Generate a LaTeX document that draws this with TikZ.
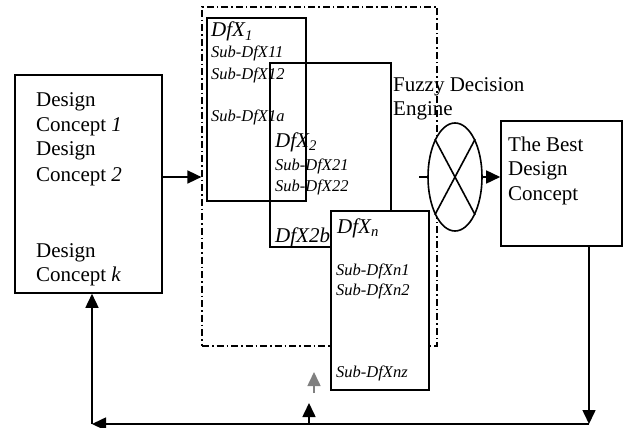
\documentclass[tikz,border=0pt]{standalone}
\usepackage{fontspec}
\setmainfont{Liberation Serif}
\usepackage{tikz}
\usetikzlibrary{arrows.meta, shapes.geometric, fit}
\definecolor{tipgray}{RGB}{128,128,128}
\newcommand{\dfx}[1]{\textit{DfX\textsubscript{#1}}}

\begin{document}
\begin{tikzpicture}[x=1pt, y=-1pt,
    box/.style={draw, line width=1.6pt, inner sep=0pt},
    wbox/.style={box, fill=white},
    group/.style={draw, line width=1.2pt, inner sep=0pt,
                  dash pattern=on 7pt off 3pt on 1.5pt off 3pt},
    big/.style={font=\fontsize{21}{25}\selectfont, inner sep=0pt, anchor=base west},
    small/.style={font=\fontsize{16.5}{20}\selectfont\itshape, inner sep=0pt, anchor=base west},
    arr/.style={line width=1.6pt, -{Triangle[length=14pt, width=13pt]}}]
  \useasboundingbox (0,0) rectangle (626,428);

  % Design concepts
  \node[box, fit={(15,75) (162,293)}] (concepts) {};
  \foreach \y/\t in {106/Design, 131/Concept \textit{1}, 155/Design,
                     181/Concept \textit{2}, 257/Design, 281/Concept \textit{k}} {
    \node[big] (dc-\y) at (36,\y) {\t};
  }

  % DfX group
  \node[group, fit={(202,7) (437,346)}] (dfxgroup) {};

  \node[box, fit={(207,18) (306,201)}] (dfx1) {};
  \node[big] (dfx1-name) at (211,37) {\dfx{1}};
  \foreach \y/\t in {58/Sub-DfX11, 79/Sub-DfX12, 121/Sub-DfX1a} {
    \node[small] (s1-\y) at (211,\y) {\t};
  }

  \node[box, fit={(270,63) (391,247)}] (dfx2) {};
  \node[big] (dfx2-name) at (275,147) {\dfx{2}};
  \foreach \y/\t in {170/Sub-DfX21, 191/Sub-DfX22} {
    \node[small] (s2-\y) at (275,\y) {\t};
  }
  \node[big, font=\fontsize{21}{25}\selectfont\itshape] (dfx2-last) at (275,242) {DfX2b};

  \node[wbox, fit={(331,211) (429,390)}] (dfxn) {};
  \node[big] (dfxn-name) at (337,233) {\dfx{n}};
  \foreach \y/\t in {275/Sub-DfXn1, 295/Sub-DfXn2, 377/Sub-DfXnz} {
    \node[small] (sn-\y) at (336,\y) {\t};
  }

  % Fuzzy decision engine
  \node[big] (fde-l1) at (393,92) {Fuzzy Decision};
  \node[big] (fde-l2) at (393,115) {Engine};
  \node[draw, fill=white, ellipse, line width=1.6pt, inner sep=0pt,
        minimum width=54pt, minimum height=108pt] (fde) at (455,177) {};
  \draw[line width=1.6pt] (fde.118) -- (fde.-62);
  \draw[line width=1.6pt] (fde.62) -- (fde.-118);
  \coordinate (fde-in) at (419,177);
  \draw[line width=1.6pt] (fde-in) -- (fde.west);

  % Best concept
  \node[box, fit={(501,121) (622,246)}] (best) {};
  \foreach \y/\t in {151/The Best, 175/Design, 200/Concept} {
    \node[big] (bc-\y) at (508,\y) {\t};
  }

  % Flow
  \draw[arr] (concepts.east |- fde.west) -- (dfxgroup.west |- fde.west);
  \draw[arr] (fde.east) -- (best.west |- fde.east);

  % Feedback loop
  \coordinate (fb-r) at (589,424);
  \coordinate (fb-l) at (92,424);
  \coordinate (fb-m) at (309,424);
  \coordinate (fb-tip) at (309,403);
  \draw[arr] (best.south -| fb-r) -- (fb-r);
  \draw[arr] (fb-r) -- (fb-l);
  \draw[arr] (fb-l) -- (concepts.south -| fb-l);
  \draw[arr] (fb-m) -- (fb-tip);
  \coordinate (gr-tail) at (314,393);
  \coordinate (gr-tip) at (314,372);
  \draw[arr, tipgray] (gr-tail) -- (gr-tip);
\end{tikzpicture}
\end{document}
